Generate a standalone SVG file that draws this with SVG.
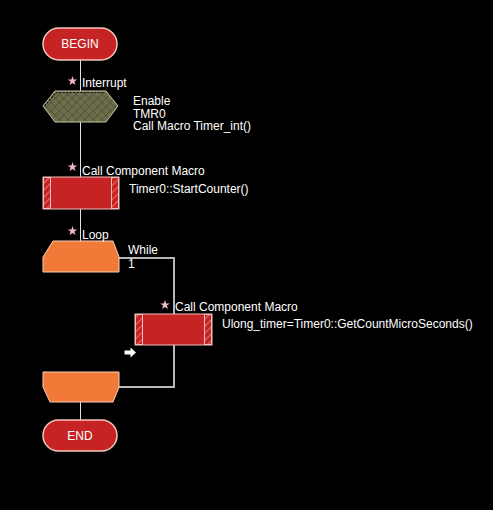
<svg xmlns="http://www.w3.org/2000/svg" width="493" height="510" viewBox="0 0 493 510">
<style>
text{font-family:"Liberation Sans",Arial,sans-serif;font-size:12px;fill:#ffffff}
.term{fill:#c62424;stroke:#f2c8bc;stroke-width:1.5}
.loop{fill:#f27a38;stroke:#f6d0b8;stroke-width:1}
.wire{stroke:#e0e0e0;stroke-width:1;fill:none}
.back{stroke:#b8b8b8;stroke-width:2;fill:none}
.star{fill:#f2b8c6}
.ct{text-anchor:middle}
</style>
<defs>
<pattern id="hatch" width="5" height="5" patternUnits="userSpaceOnUse" patternTransform="rotate(45)">
<rect width="5" height="5" fill="#c62424"/>
<line x1="0" y1="0" x2="0" y2="5" stroke="#f0a4a4" stroke-width="1.2"/>
</pattern>
<pattern id="xhatch" width="6" height="6" patternUnits="userSpaceOnUse" patternTransform="rotate(45)">
<rect width="6" height="6" fill="#6e6e4c"/>
<path d="M0 0V6M0 0H6" stroke="#45452e" stroke-width="1.2"/>
</pattern>
<polygon id="st" points="0,-5 1.2,-1.6 4.8,-1.6 1.9,0.6 3,4.1 0,2 -3,4.1 -1.9,0.6 -4.8,-1.6 -1.2,-1.6" class="star"/>
</defs>
<rect width="493" height="510" fill="#000"/>
<g id="connectors">
<line class="wire" x1="80.5" y1="60" x2="80.5" y2="91"/>
<line class="wire" x1="80.5" y1="122" x2="80.5" y2="177"/>
<line class="wire" x1="80.5" y1="209" x2="80.5" y2="241"/>
<polyline class="back" points="119,258 174,258 174,314"/>
<polyline class="back" points="174,345 174,387 119,387"/>
<line class="wire" x1="80.5" y1="402" x2="80.5" y2="420"/>
<path d="M124.5 350.5h6v-3l5.5 5-5.5 5v-3h-6z" fill="#ffffff"/>
</g>
<g id="begin">
<rect class="term" x="43" y="28" width="74" height="32" rx="16"/>
<text class="ct" x="80" y="48">BEGIN</text>
</g>
<g id="interrupt">
<polygon points="43,106 55,91 106,91 118,106 106,122 55,122" fill="url(#xhatch)" stroke="#c8c8a8" stroke-width="1"/>
<polyline points="44.5,106 56,92.5 105,92.5" fill="none" stroke="#111" stroke-width="1.2" stroke-dasharray="2,1.5"/>
<use href="#st" x="72.5" y="81"/>
<text x="82" y="87">Interrupt</text>
<text x="133" y="105">Enable</text>
<text x="133" y="117.5">TMR0</text>
<text x="133" y="130">Call Macro Timer_int()</text>
</g>
<g id="call1">
<rect x="43" y="177" width="76" height="32" fill="#c62424" stroke="#f2c0b8" stroke-width="1"/>
<rect x="43.5" y="177.5" width="7" height="31" fill="url(#hatch)" stroke="#f2c0b8" stroke-width="1"/>
<rect x="111.5" y="177.5" width="7" height="31" fill="url(#hatch)" stroke="#f2c0b8" stroke-width="1"/>
<use href="#st" x="72.5" y="167"/>
<text x="82" y="175">Call Component Macro</text>
<text x="129" y="193">Timer0::StartCounter()</text>
</g>
<g id="loop">
<polygon class="loop" points="53,241 113,241 119,257 119,272 43,272 43,257"/>
<use href="#st" x="72.5" y="231"/>
<text x="82" y="239">Loop</text>
<text x="128" y="254">While</text>
<text x="128" y="268">1</text>
</g>
<g id="call2">
<rect x="135" y="314" width="77" height="31" fill="#c62424" stroke="#f2c0b8" stroke-width="1"/>
<rect x="135.5" y="314.5" width="7" height="30" fill="url(#hatch)" stroke="#f2c0b8" stroke-width="1"/>
<rect x="204.5" y="314.5" width="7" height="30" fill="url(#hatch)" stroke="#f2c0b8" stroke-width="1"/>
<use href="#st" x="165" y="305"/>
<text x="175" y="311">Call Component Macro</text>
<text x="222" y="328">Ulong_timer=Timer0::GetCountMicroSeconds()</text>
</g>
<g id="loopend">
<polygon class="loop" points="43,372 119,372 119,387 113,402 50,402 43,387"/>
</g>
<g id="end">
<rect class="term" x="43" y="420" width="74" height="31" rx="15.5"/>
<text class="ct" x="80" y="440">END</text>
</g>
</svg>
